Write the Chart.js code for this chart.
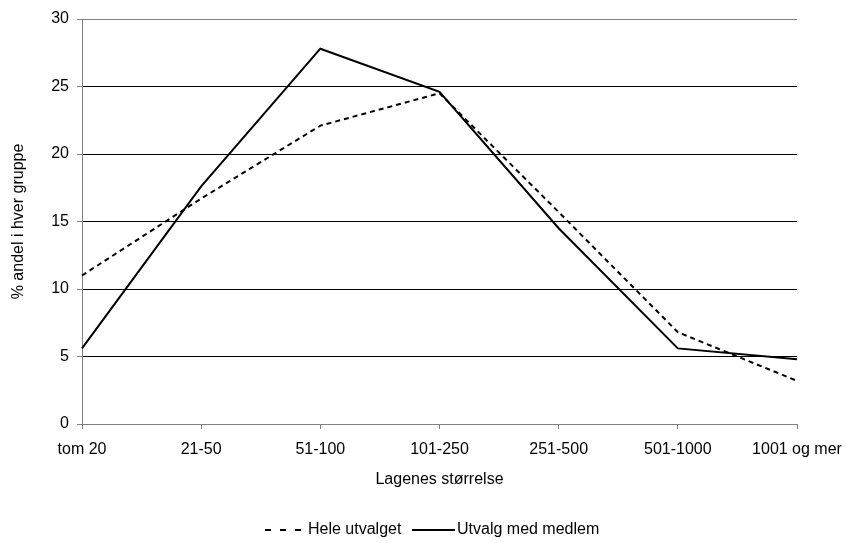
<!DOCTYPE html>
<html>
<head>
<meta charset="utf-8">
<script src="https://cdn.jsdelivr.net/npm/chart.js@4.4.1/dist/chart.umd.min.js"></script>
<style>
  html, body { margin: 0; padding: 0; background: #fff; }
  canvas { display: block; }
</style>
</head>
<body>
<canvas id="grafico" width="846" height="543"></canvas>
<script>
// categories and series
const kategorier = ["tom 20", "21-50", "51-100", "101-250", "251-500", "501-1000", "1001 og mer"];
const heleUtvalget = [11.0, 16.7, 22.1, 24.5, 15.7, 6.8, 3.2];
const utvalgMedMedlem = [5.6, 17.6, 27.8, 24.6, 14.5, 5.6, 4.8];
const yTicks = [0, 5, 10, 15, 20, 25, 30];

const FONT = { family: "'Liberation Sans', Arial, sans-serif", size: 16 };
const GRAA = "#808080";

// legend drawn by hand, Excel style (line sample + text side by side)
const excelLegende = {
    id: "excelLegende",
    afterDraw(chart) {
        const ctx = chart.ctx;
        const ds = chart.data.datasets;
        const y = 530;
        const items = [
            { x1: 265, x2: 301, tx: 308, dash: [6, 9] },
            { x1: 412, x2: 455, tx: 457, dash: [] }
        ];
        ctx.save();
        ctx.font = `${FONT.size}px ${FONT.family}`;
        ctx.textBaseline = "middle";
        ctx.textAlign = "left";
        items.forEach((it, i) => {
            ctx.beginPath();
            ctx.setLineDash(it.dash);
            ctx.lineWidth = ds[i].borderWidth;
            ctx.strokeStyle = ds[i].borderColor;
            ctx.moveTo(it.x1, y);
            ctx.lineTo(it.x2, y);
            ctx.stroke();
            ctx.setLineDash([]);
            ctx.fillStyle = "#000";
            ctx.fillText(ds[i].label, it.tx, y);
        });
        ctx.restore();
    }
};

new Chart(document.getElementById("grafico"), {
    type: "line",
    data: {
        labels: kategorier,
        datasets: [
            {
                label: "Hele utvalget",
                data: heleUtvalget,
                borderColor: "#000",
                borderWidth: 2,
                borderDash: [5, 4],
                pointRadius: 0,
                tension: 0,
                clip: false
            },
            {
                label: "Utvalg med medlem",
                data: utvalgMedMedlem,
                borderColor: "#000",
                borderWidth: 2,
                pointRadius: 0,
                tension: 0,
                clip: false
            }
        ]
    },
    options: {
        responsive: false,
        animation: false,
        layout: { padding: { left: 0, right: 49, top: 19, bottom: 49 } },
        plugins: {
            legend: { display: false },
            tooltip: { enabled: false }
        },
        scales: {
            x: {
                offset: false,
                grid: {
                    drawOnChartArea: false,
                    drawTicks: true,
                    tickLength: 5,
                    tickColor: GRAA
                },
                border: { color: GRAA, width: 1 },
                ticks: { color: "#000", font: FONT, padding: 11, maxRotation: 0, autoSkip: false },
                title: {
                    display: true,
                    text: "Lagenes størrelse",
                    color: "#000",
                    font: FONT,
                    padding: { top: 0, bottom: 5 }
                },
                afterFit(scale) {
                    scale.height = 70;
                    // la siste etikett henge utenfor plottet, som i Excel
                    scale.paddingLeft = 0;
                    scale.paddingRight = 0;
                }
            },
            y: {
                min: 0,
                max: 30,
                afterBuildTicks(scale) { scale.ticks = yTicks.map(v => ({ value: v })); },
                grid: {
                    color: c => (c.tick && (c.tick.value === 30 || c.tick.value === 0)) ? GRAA : "#000",
                    lineWidth: 1,
                    tickLength: 5,
                    tickColor: GRAA
                },
                border: { color: GRAA, width: 1 },
                ticks: { color: "#000", font: FONT, padding: 8 },
                title: {
                    display: true,
                    text: "% andel i hver gruppe",
                    color: "#000",
                    font: FONT,
                    padding: { top: 9, bottom: 0 }
                },
                afterFit(scale) { scale.width = 82; }
            }
        }
    },
    plugins: [excelLegende]
});
</script>
</body>
</html>
